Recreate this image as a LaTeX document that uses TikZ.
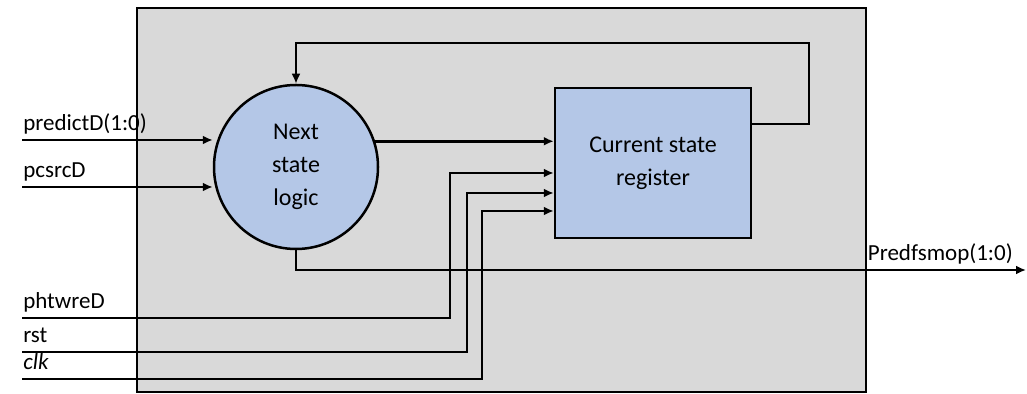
\documentclass[tikz,border=0pt]{standalone}
\usepackage{fontspec}
\setmainfont{Carlito}
\usetikzlibrary{arrows.meta}
\definecolor{boxgray}{HTML}{D9D9D9}
\definecolor{logicblue}{HTML}{B4C7E7}
\begin{document}
\begin{tikzpicture}[x=0.5pt,y=-0.5pt,line width=1.25pt,
  wire/.style={-{Latex[length=5pt,width=4.5pt]}},
  lbl/.style={font=\fontsize{11.5}{13}\selectfont,inner sep=0pt,anchor=base west,yshift=4.5pt},
  blk/.style={draw,fill=logicblue,align=center,font=\fontsize{12}{16.5}\selectfont}]
\useasboundingbox (0,0) rectangle (1027,394);
% outline
\draw[fill=boxgray] (137,8) rectangle (866,392);
\node[blk,circle,minimum size=82pt] (nsl) at (296,167) {Next\\state\\logic};
\node[blk,rectangle,minimum width=98pt,minimum height=75pt] (csr) at (653,163) {Current state\\register};
% inputs and turning points
\coordinate (pd) at (22,140);
\coordinate (pc) at (22,187);
\coordinate (phw) at (22,318);
\coordinate (rst) at (22,352);
\coordinate (clk) at (22,379);
\coordinate (phwup) at (450,173);
\coordinate (rstup) at (467,193);
\coordinate (clkup) at (482,211);
\coordinate (fbr) at (809,124);
\coordinate (fbtop) at (809,43);
\coordinate (out) at (1026,270);
% next state logic
\draw[wire] (pd) node[lbl] (pdlbl) {predictD(1:0)} -- (pd -| nsl.west);
\draw[wire] (pc) node[lbl] (pclbl) {pcsrcD} -- (pc -| nsl.west);
\draw[wire] (nsl.18) -- (nsl.18 -| csr.west);
\draw[wire] (csr.east |- fbr) -- (fbr) -- (fbtop) -| (nsl.north);
% register inputs
\draw[wire] (phw) node[lbl] (phwlbl) {phtwreD} -| (phwup) -- (phwup -| csr.west);
\draw[wire] (rst) node[lbl] (rstlbl) {rst} -| (rstup) -- (rstup -| csr.west);
\draw[wire] (clk) node[lbl] (clklbl) {\textit{clk}} -| (clkup) -- (clkup -| csr.west);
% output
\draw[wire] (nsl.south) |- (out) node[lbl,anchor=base east,xshift=-6pt] (outlbl) {Predfsmop(1:0)};
\end{tikzpicture}
\end{document}
